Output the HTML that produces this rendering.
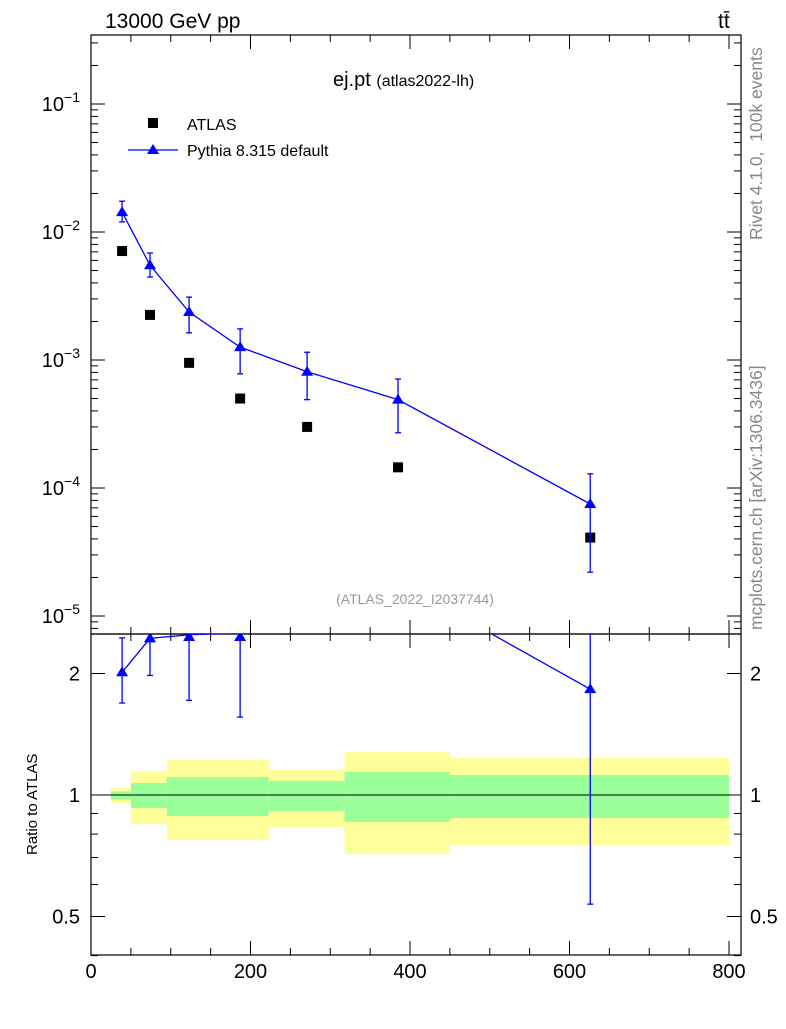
<!DOCTYPE html>
<html><head><meta charset="utf-8"><style>
body{margin:0;background:#fff;font-family:"Liberation Sans",sans-serif;}
svg text{font-family:"Liberation Sans",sans-serif;}
</style></head><body>
<svg id="c" width="786" height="1024" xmlns="http://www.w3.org/2000/svg">
<defs>
<clipPath id="cpTop"><rect x="91" y="35" width="650" height="599"/></clipPath>
<clipPath id="cpBot"><rect x="91" y="634" width="650" height="321"/></clipPath>
</defs>
<rect x="0" y="0" width="786" height="1024" fill="#fff"/>
<g id="bands" clip-path="url(#cpBot)"></g>
<g id="axes"></g>
<g id="topMarks" clip-path="url(#cpTop)"></g>
<g id="botMarks" clip-path="url(#cpBot)"></g>
<text x="105" y="28" font-size="21">13000 GeV pp</text>
<text x="718" y="28" font-size="21">tt̄</text>
<text x="333" y="86" font-size="20">ej.pt <tspan font-size="16">(atlas2022-lh)</tspan></text>
<text x="415" y="604" font-size="14" fill="#999" text-anchor="middle">(ATLAS_2022_I2037744)</text>
<text transform="translate(762,240) rotate(-90)" font-size="17.5" fill="#888" xml:space="preserve">Rivet 4.1.0,  100k events</text>
<text transform="translate(762,630) rotate(-90)" font-size="17.5" fill="#888">mcplots.cern.ch [arXiv:1306.3436]</text>
<text transform="translate(37,855) rotate(-90)" font-size="15">Ratio to ATLAS</text>
<g>
<rect x="148" y="118" width="10" height="10" fill="#000"/>
<text x="187" y="130" font-size="16">ATLAS</text>
<line x1="128" y1="150" x2="178" y2="150" stroke="#00f" stroke-width="1.3"/>
<polygon points="153,144 159,154 147,154" fill="#00f"/>
<text x="187" y="156" font-size="16">Pythia 8.315 default</text>
</g>
</svg>
<script>
const binLo=[25,50,95,223,318,450];
const binHi=[50,95,223,318,450,800];
const xPts=[39,74,123,187,271,385,626];
const dataY=[7.1e-3,2.25e-3,9.5e-4,5.0e-4,3.0e-4,1.45e-4,4.1e-5];
const mcY=[1.43e-2,5.5e-3,2.37e-3,1.26e-3,8.1e-4,4.9e-4,7.5e-5];
const mcUp=[1.74e-2,6.85e-3,3.1e-3,1.75e-3,1.15e-3,7.1e-4,1.29e-4];
const mcDn=[1.2e-2,4.45e-3,1.63e-3,7.8e-4,4.9e-4,2.7e-4,2.2e-5];
const yelLo=[0.955,0.848,0.774,0.833,0.714,0.752];
const yelHi=[1.04,1.146,1.221,1.153,1.278,1.235];
const grnLo=[0.975,0.929,0.887,0.913,0.857,0.877];
const grnHi=[1.02,1.071,1.108,1.083,1.14,1.121];
const xTicks=[0,200,400,600,800];
const yTopTicks=[-5,-4,-3,-2,-1];
const yBotTicks=[0.5,1,2];

const NS="http://www.w3.org/2000/svg";
const X=v=>91+v*0.7975;
const YT=v=>232-128*(Math.log10(v)+2);
const YB=v=>795-121.5*Math.log2(v);
function mk(p,t,a){const e=document.createElementNS(NS,t);for(const k in a)e.setAttribute(k,a[k]);p.appendChild(e);return e;}
const axesG=document.getElementById('axes');
const bandsG=document.getElementById('bands');
const topG=document.getElementById('topMarks');
const botG=document.getElementById('botMarks');

for(let i=0;i<binLo.length;i++){
 const y=mk(bandsG,'rect',{x:X(binLo[i]),y:YB(yelHi[i]),width:X(binHi[i])-X(binLo[i]),height:YB(yelLo[i])-YB(yelHi[i]),fill:'#ffff99'});
 
 
 const g=mk(bandsG,'rect',{x:X(binLo[i]),y:YB(grnHi[i]),width:X(binHi[i])-X(binLo[i]),height:YB(grnLo[i])-YB(grnHi[i]),fill:'#99ff99'});
 
 
}
mk(bandsG,'line',{x1:91,y1:YB(1),x2:741,y2:YB(1),stroke:'#000','stroke-width':1});

const f1=mk(axesG,'rect',{x:91,y:35,width:650,height:599,fill:'none',stroke:'#000','stroke-width':1.2});


const f2=mk(axesG,'rect',{x:91,y:634,width:650,height:321,fill:'none',stroke:'#000','stroke-width':1.2});



for(let v=0;v<=800;v+=50){
 const L=(v%200===0)?14:7;
 mk(axesG,'line',{x1:X(v),y1:955,x2:X(v),y2:955-L,stroke:'#000'});
 mk(axesG,'line',{x1:X(v),y1:634,x2:X(v),y2:634-L,stroke:'#000'});
 mk(axesG,'line',{x1:X(v),y1:35,x2:X(v),y2:35+L,stroke:'#000'});
 mk(axesG,'line',{x1:X(v),y1:634,x2:X(v),y2:634+L,stroke:'#000'});
}
xTicks.forEach(v=>{const t=mk(axesG,'text',{x:X(v),y:978,'font-size':20,'text-anchor':'middle'});t.textContent=v;
 
 });

for(let e=-6;e<=0;e++){for(let m=1;m<10;m++){const v=m*Math.pow(10,e);const y=YT(v);if(y<35||y>634)continue;
 const L=m===1?14:7;
 mk(axesG,'line',{x1:91,y1:y,x2:91+L,y2:y,stroke:'#000'});
 mk(axesG,'line',{x1:741,y1:y,x2:741-L,y2:y,stroke:'#000'});}}
yTopTicks.forEach(e=>{const t=mk(axesG,'text',{x:80,y:YT(Math.pow(10,e))+7,'font-size':20,'text-anchor':'end'});
 t.innerHTML='10<tspan dy="-9" font-size="14">'+(e<0?'\u2212':'')+Math.abs(e)+'</tspan>';
 
 });

[0.4,0.5,0.6,0.7,0.8,0.9,1,2].forEach(v=>{const y=YB(v);const L=(v===0.5||v===1||v===2)?14:7;
 mk(axesG,'line',{x1:91,y1:y,x2:91+L,y2:y,stroke:'#000'});
 mk(axesG,'line',{x1:741,y1:y,x2:741-L,y2:y,stroke:'#000'});});
yBotTicks.forEach(v=>{[[80,'end'],[750,'start']].forEach(([x,a])=>{const t=mk(axesG,'text',{x:x,y:YB(v)+7,'font-size':20,'text-anchor':a});t.textContent=v;
 
 });});

mk(topG,'polyline',{points:xPts.map((x,i)=>X(x)+','+YT(mcY[i])).join(' '),fill:'none',stroke:'#00f','stroke-width':1.3});
xPts.forEach((x,i)=>{
 const d=mk(topG,'rect',{x:X(x)-5,y:YT(dataY[i])-5,width:10,height:10,fill:'#000'});
 
 
 const cx=X(x);
 mk(topG,'line',{x1:cx,y1:YT(mcUp[i]),x2:cx,y2:YT(mcDn[i]),stroke:'#00f','stroke-width':1.3});
 mk(topG,'line',{x1:cx-3,y1:YT(mcUp[i]),x2:cx+3,y2:YT(mcUp[i]),stroke:'#00f','stroke-width':1.3});
 mk(topG,'line',{x1:cx-3,y1:YT(mcDn[i]),x2:cx+3,y2:YT(mcDn[i]),stroke:'#00f','stroke-width':1.3});
 const cy=YT(mcY[i]);
 const p=mk(topG,'polygon',{points:`${cx},${cy-6} ${cx+6},${cy+4} ${cx-6},${cy+4}`,fill:'#00f'});
 
 
});

mk(botG,'polyline',{points:xPts.map((x,i)=>X(x)+','+YB(mcY[i]/dataY[i])).join(' '),fill:'none',stroke:'#00f','stroke-width':1.3});
xPts.forEach((x,i)=>{
 const cx=X(x),r=mcY[i]/dataY[i],u=mcUp[i]/dataY[i],d=mcDn[i]/dataY[i];
 if(r>2.52)return;
 mk(botG,'line',{x1:cx,y1:YB(u),x2:cx,y2:YB(d),stroke:'#00f','stroke-width':1.3});
 mk(botG,'line',{x1:cx-3,y1:YB(u),x2:cx+3,y2:YB(u),stroke:'#00f','stroke-width':1.3});
 mk(botG,'line',{x1:cx-3,y1:YB(d),x2:cx+3,y2:YB(d),stroke:'#00f','stroke-width':1.3});
 const cy=Math.max(YB(r),637);
 const p=mk(botG,'polygon',{points:`${cx},${cy-6} ${cx+6},${cy+4} ${cx-6},${cy+4}`,fill:'#00f'});
 
 
});
</script>
</body></html>
